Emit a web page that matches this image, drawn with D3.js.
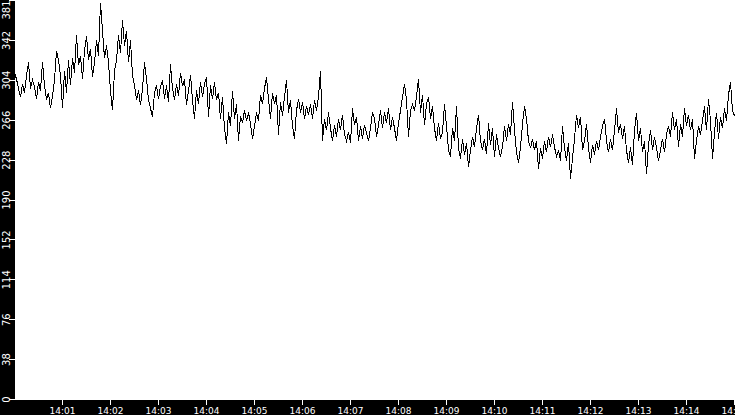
<!DOCTYPE html>
<html>
<head>
<meta charset="utf-8">
<script src="https://cdn.jsdelivr.net/npm/d3@7"></script>
<style>
  html, body { margin: 0; padding: 0; background: #000; }
  svg { display: block; }
</style>
</head>
<body>
<div id="chart"></div>
<script>
// readings, one every 2.5 s starting at 14:00:00
const startTime = new Date(2020, 0, 1, 14, 0, 0);
const stepSeconds = 2.5;
const values = [
  312,306,297,289,301,293,309,322,297,305,299,287,303,295,322,300,286,293,278,290,
  305,333,324,309,278,314,293,324,300,326,312,348,319,328,306,333,347,324,335,308,
  322,343,328,379,352,326,338,322,295,276,314,324,348,331,362,338,352,322,343,309,
  300,286,295,281,297,322,306,286,278,270,293,300,287,299,305,287,300,284,320,297,
  286,301,290,312,299,306,281,295,310,286,268,295,282,303,289,301,308,270,300,287,
  303,286,293,268,289,259,244,274,261,295,268,282,247,271,264,276,266,274,263,249,
  261,274,266,291,282,297,308,287,268,293,282,291,253,284,271,289,305,274,286,261,
  249,276,287,274,284,268,280,272,282,268,286,276,289,314,247,268,257,274,259,247,
  262,251,268,257,272,253,247,255,245,278,262,270,247,261,249,262,255,247,259,274,
  268,251,262,276,259,274,264,278,257,270,259,247,264,276,289,301,286,251,276,282,
  276,289,306,274,291,262,282,289,268,280,259,247,264,249,255,282,261,238,232,259,
  247,280,240,230,249,234,245,222,238,251,241,259,272,247,238,249,234,264,243,259,
  232,253,240,232,241,261,247,263,253,284,257,236,226,241,263,280,268,247,240,249,
  238,247,220,240,230,247,236,251,241,253,241,232,238,228,261,240,228,245,211,230,
  249,272,259,270,238,247,263,240,226,243,234,247,238,251,261,268,247,236,249,238,
  257,278,255,263,249,261,238,226,241,224,257,274,247,259,236,247,215,243,257,238,
  251,240,228,238,249,236,253,261,251,274,257,268,241,263,251,278,261,272,257,268,
  230,247,261,253,266,280,257,287,266,230,255,274,249,270,259,278,266,291,303,276,
  271
];
const yMax = 381;
const yTickValues = [0, 38.1, 76.2, 114.3, 152.4, 190.5, 228.6, 266.7, 304.8, 342.9, 381];
const endTime = new Date(2020, 0, 1, 14, 15, 0);

const width = 735, height = 415;
const plot = { left: 15, top: 0, right: 735, bottom: 400 };

const data = values.map((v, i) => ({
  t: new Date(startTime.getTime() + i * stepSeconds * 1000),
  v: v
}));

const svg = d3.select('#chart')
  .append('svg')
  .attr('width', width)
  .attr('height', height)
  .style('background', '#000');

svg.append('defs').append('clipPath')
  .attr('id', 'plotclip')
  .append('rect')
  .attr('x', plot.left).attr('y', plot.top)
  .attr('width', plot.right - plot.left)
  .attr('height', plot.bottom - plot.top);

svg.append('rect')
  .attr('x', plot.left).attr('y', plot.top)
  .attr('width', plot.right - plot.left)
  .attr('height', plot.bottom - plot.top)
  .attr('fill', '#fff');

const x = d3.scaleTime()
  .domain([startTime, endTime])
  .range([14.5, 734.5]);

const y = d3.scaleLinear()
  .domain([0, yMax])
  .range([399.5, 0.5]);

const line = d3.line()
  .x(d => x(d.t))
  .y(d => y(d.v));

svg.append('path')
  .datum(data)
  .attr('clip-path', 'url(#plotclip)')
  .attr('fill', 'none')
  .attr('stroke', '#000')
  .attr('stroke-width', 1)
  .attr('shape-rendering', 'crispEdges')
  .attr('d', line);

// y axis: ticks + rotated labels
const yAxis = svg.append('g').attr('class', 'y-axis');
yAxis.selectAll('line')
  .data(yTickValues)
  .enter().append('line')
  .attr('x1', 9).attr('x2', 15)
  .attr('y1', d => Math.round(y(d) - 0.5) + 0.5)
  .attr('y2', d => Math.round(y(d) - 0.5) + 0.5)
  .attr('stroke', '#fff')
  .attr('shape-rendering', 'crispEdges');

yAxis.selectAll('text')
  .data(yTickValues)
  .enter().append('text')
  .attr('transform', d => 'translate(10,' + y(d) + ') rotate(-90)')
  .attr('text-anchor', d => d === yMax ? 'end' : 'middle')
  .attr('fill', '#fff')
  .style('font-family', 'DejaVu Sans, sans-serif')
  .style('font-size', '10px')
  .text(d => Math.floor(d));

// x axis: minute ticks
const xTicks = d3.timeMinute.every(1).range(new Date(2020, 0, 1, 14, 1, 0), new Date(2020, 0, 1, 14, 15, 1));
const fmt = d3.timeFormat('%H:%M');
const xAxis = svg.append('g').attr('class', 'x-axis');
xAxis.selectAll('line')
  .data(xTicks)
  .enter().append('line')
  .attr('x1', d => Math.round(x(d) - 0.5) + 0.5)
  .attr('x2', d => Math.round(x(d) - 0.5) + 0.5)
  .attr('y1', 400).attr('y2', 405)
  .attr('stroke', '#fff')
  .attr('shape-rendering', 'crispEdges');

xAxis.selectAll('text')
  .data(xTicks)
  .enter().append('text')
  .attr('x', d => x(d))
  .attr('y', 414)
  .attr('text-anchor', 'middle')
  .attr('fill', '#fff')
  .style('font-family', 'DejaVu Sans, sans-serif')
  .style('font-size', '9px')
  .text(d => fmt(d));
</script>
</body>
</html>
